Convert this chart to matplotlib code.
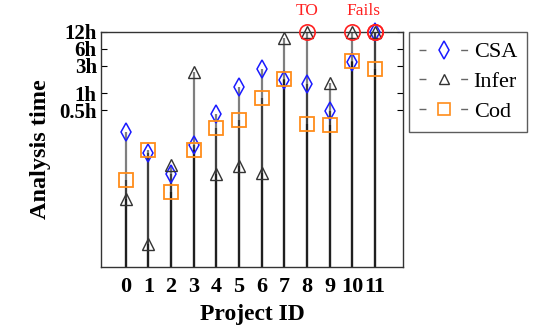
import matplotlib.pyplot as plt
from matplotlib.lines import Line2D
import numpy as np

plt.rcParams['font.family'] = ['Liberation Serif', 'DejaVu Serif']

# project ids and analysis times in seconds (12h = timeout / fail)
projects = list(range(12))
csa = [743, 317, 137, 446, 1524, 4624, 9480, 5998, 5224, 1722, 12600, 43200]
infer = [49, 7.8, 192, 8300, 133, 185, 143, 33000, 43200, 5430, 43200, 43200]
cod = [104, 354, 65, 364, 889, 1230, 2958, 6320, 1045, 975, 12970, 9600]

# red circles: (project, value)
fail_x = [8, 10, 11, 11]
fail_y = [43200, 43200, 43200, 43200]

ytick_vals = [1800, 3600, 10800, 21600, 43200]
ytick_labels = ['0.5h', '1h', '3h', '6h', '12h']

fig = plt.figure(figsize=(5.34, 3.35), dpi=100)
ax = fig.add_axes([0.189, 0.203, 0.566, 0.702])

ymin = 3.1
x = np.array(projects)

# stems, one per series, stacked with alpha so overlaps get darker
for vals in (infer, cod, csa):
    ax.vlines(x, ymin, vals, color='black', alpha=0.5, lw=1.6, zorder=1)

ax.plot(x, csa, ls='none', marker='d', ms=9, mfc='none', mec='#1a1aff', mew=1.1, zorder=3, clip_on=False)
ax.plot(x, infer, ls='none', marker='^', ms=9, mfc='none', mec='#333333', mew=1.0, zorder=3, clip_on=False)
ax.plot(x, cod, ls='none', marker='s', ms=10, mfc='none', mec='#ff8c1a', mew=1.3, zorder=3, clip_on=False)
ax.plot(fail_x, fail_y, ls='none', marker='o', ms=11, mfc='none', mec='#ff2020', mew=1.2, zorder=4, clip_on=False)

ax.text(8, 1.055, 'TO', transform=ax.get_xaxis_transform(), color='#ff2020', fontsize=12.5,
        ha='center', va='bottom')
ax.text(10.5, 1.055, 'Fails', transform=ax.get_xaxis_transform(), color='#ff2020', fontsize=12.5,
        ha='center', va='bottom')

ax.set_yscale('log')
ax.set_ylim(ymin, 43200)
ax.set_xlim(-1.1, 12.25)
ax.set_yticks(ytick_vals)
ax.set_yticklabels(ytick_labels)
ax.yaxis.set_minor_locator(plt.NullLocator())
ax.set_xticks(projects)
ax.set_xticklabels([str(p) for p in projects])
ax.tick_params(axis='both', direction='in', labelsize=16, right=True, length=4, pad=3)
ax.tick_params(axis='y', labelsize=15)
ax.tick_params(axis='x', length=0, pad=7)
for lab in ax.get_xticklabels() + ax.get_yticklabels():
    lab.set_fontweight('bold')
for sp in ax.spines.values():
    sp.set_color('#333333')
    sp.set_linewidth(1.0)

ax.set_xlabel('Project ID', fontsize=17, fontweight='bold', labelpad=5)
ax.set_ylabel('Analysis time', fontsize=17.5, fontweight='bold', labelpad=6)

dash = (0, (5, 25))
handles = [
    Line2D([], [], color='#666666', ls=dash, lw=1.0, marker='d', ms=9, mfc='none', mec='#1a1aff', mew=1.1),
    Line2D([], [], color='#666666', ls=dash, lw=1.0, marker='^', ms=7, mfc='none', mec='#333333'),
    Line2D([], [], color='#666666', ls=dash, lw=1.0, marker='s', ms=9, mfc='none', mec='#ff8c1a', mew=1.2),
]
leg = ax.legend(handles, ['CSA', 'Infer', 'Cod'], loc='upper left', bbox_to_anchor=(1.02, 1.0),
                fontsize=16, frameon=True, fancybox=False, edgecolor='#333333',
                handlelength=2.2, handletextpad=0.25, borderpad=0.45, borderaxespad=0.0,
                labelspacing=0.42)
leg.get_frame().set_linewidth(1.0)

fig.savefig('out.png', dpi=100)
